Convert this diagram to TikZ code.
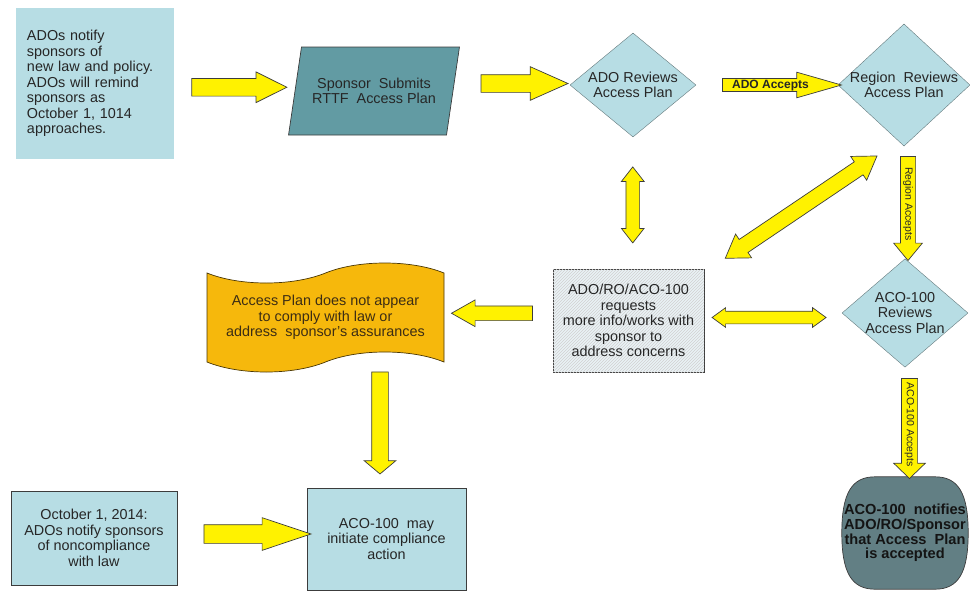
\documentclass[tikz,border=0pt]{standalone}
\usepackage{fontspec}
\setmainfont{Liberation Sans}
\usepackage{xcolor}
\usepackage{tikz}
\usetikzlibrary{shapes.geometric, shapes.arrows, shapes.symbols, patterns, calc, backgrounds}

\definecolor{boxblue}{RGB}{183,221,228}
\definecolor{plateal}{RGB}{98,155,163}
\definecolor{tapeorange}{RGB}{246,184,12}
\definecolor{slategray}{RGB}{98,127,132}
\definecolor{reqfill}{RGB}{234,242,245}
\definecolor{inkgray}{RGB}{38,38,38}
\definecolor{edgegray}{RGB}{60,60,60}

\begin{document}
\begin{tikzpicture}[
    x=1pt, y=-1pt,
    txt/.style={font=\fontsize{14.4}{15.5}\selectfont, text=inkgray},
    box/.style={rectangle, fill=boxblue, txt, align=center, inner sep=0pt},
    decide/.style={diamond, fill=boxblue, draw=boxblue!55!black, line width=0.4pt, txt, align=center, inner sep=-3pt},
    fat/.style={single arrow, draw=edgegray, fill=yellow, line width=0.7pt, inner xsep=0pt},
    twoway/.style={double arrow, draw=edgegray, fill=yellow, line width=0.7pt, inner xsep=0pt},
    tag/.style={font=\fontsize{10.5}{11}\selectfont, text=inkgray, text height=7.5pt, text depth=2pt}
]
\useasboundingbox (0,0) rectangle (970,592);

\node [box, align=left, text width=136pt, inner xsep=11pt, minimum width=158pt, minimum height=151pt] (notice) at (95,83.5)
    {ADOs notify\\ sponsors of\\ new law and policy.\\ ADOs will remind\\ sponsors as\\ October 1, 1014\\ approaches.};
\node [trapezium, trapezium left angle=67, trapezium right angle=113, trapezium stretches=true, fill=plateal, draw=edgegray, line width=0.7pt,
    minimum width=171pt, minimum height=88pt, inner sep=0pt, txt, text=black!85, align=center] (submit) at (374,91)
    {Sponsor~~Submits\\ RTTF~~Access Plan};
\node [decide, minimum width=126pt, minimum height=104pt] (adorev) at (633,85) {ADO Reviews\\ Access Plan};
\node [decide, minimum width=132pt, minimum height=104pt] (regrev) at (904,85) {Region~~Reviews\\ Access Plan};
\node [decide, minimum width=126pt, minimum height=102pt] (acorev) at (905,313) {ACO-100\\ Reviews\\ Access Plan};
\node [box, fill=reqfill, draw=edgegray, line width=0.7pt, minimum width=151pt, minimum height=103pt,
    postaction={pattern=north east lines, pattern color=black!18}] (requests) at (628.5,320.5)
    {ADO/RO/ACO-100\\ requests\\ more info/works with\\ sponsor to\\ address concerns};
\node [tape, tape bend top=in and out, tape bend bottom=in and out, tape bend height=20pt, fill=tapeorange, draw=black!70!tapeorange,
    line width=0.7pt, minimum width=237pt, minimum height=109pt, inner sep=0pt, txt, text={rgb,255:red,60;green,45;blue,20}, align=center] (noncomp) at (325.5,317.5)
    {Access Plan does not appear\\ to comply with law or\\ address~~sponsor's assurances};
\node [box, draw=edgegray, line width=0.7pt, minimum width=166pt, minimum height=94pt] (notify2014) at (94,538)
    {October 1, 2014:\\ ADOs notify sponsors\\ of noncompliance\\ with law};
\node [box, draw=edgegray, line width=0.7pt, minimum width=159pt, minimum height=102pt] (action) at (386.5,539)
    {ACO-100~~may\\ initiate compliance\\ action};
\node [rectangle, minimum width=126pt, minimum height=112pt, inner sep=0pt,
    font=\bfseries\fontsize{14.6}{14.8}\selectfont, text=black!92, align=center] (accepted) at (905,533)
    {ACO-100~~notifies\\ ADO/RO/Sponsor\\ that Access~~Plan\\ is accepted};
\begin{scope}[on background layer]
\draw [fill=slategray, draw=edgegray, line width=0.7pt]
    ($(accepted.north)+(-30,0)$) -- ($(accepted.north)+(30,0)$)
    .. controls ($(accepted.north east)+(-10,0)$) and ($(accepted.east)+(0,-40)$) .. (accepted.east)
    .. controls ($(accepted.east)+(0,40)$) and ($(accepted.south east)+(-10,0)$) .. ($(accepted.south)+(30,0)$)
    -- ($(accepted.south)+(-30,0)$)
    .. controls ($(accepted.south west)+(10,0)$) and ($(accepted.west)+(0,40)$) .. (accepted.west)
    .. controls ($(accepted.west)+(0,-40)$) and ($(accepted.north west)+(10,0)$) .. ($(accepted.north)+(-30,0)$)
    -- cycle;
\end{scope}

\node [fat, minimum height=95pt, inner ysep=8.5pt, single arrow head extend=6.5pt, single arrow tip angle=53] (go1)
    at ($(notice.east)!0.5!(submit.west)+(-4,0)$) {};
\node [fat, minimum height=87pt, inner ysep=8.5pt, single arrow head extend=8pt, single arrow tip angle=48] (go2)
    at ($(submit.east)!0.5!(adorev.west)+(3,-4.5)$) {};
\node [fat, tag, font=\bfseries\fontsize{12}{12}\selectfont, text height=8.5pt, text depth=2.3pt, minimum height=119pt,
    inner ysep=0.8pt, single arrow head extend=6.25pt, single arrow tip angle=32] (go3)
    at ($(adorev.east)!0.5!(regrev.west)+(3.5,0)$) {ADO Accepts};
\node [fat, tag, rotate=-90, minimum height=104pt, inner ysep=2.5pt, single arrow head extend=6.75pt, single arrow tip angle=79] (go4)
    at ($(regrev.south)!0.5!(acorev.north)+(3.5,1.5)$) {Region Accepts};
\node [fat, tag, rotate=-90, minimum height=100pt, inner ysep=3pt, single arrow head extend=7.75pt, single arrow tip angle=92] (go5)
    at ($(acorev.south)!0.5!(accepted.north)+(4.5,2.5)$) {ACO-100 Accepts};
\node [twoway, rotate=90, minimum height=76pt, inner ysep=6.5pt, double arrow head extend=4.5pt, double arrow tip angle=76] (link1)
    at ($(adorev.south)!0.5!(requests.north)+(2,2)$) {};
\node [twoway, rotate=34, minimum height=183pt, inner ysep=7.5pt, double arrow head extend=6.5pt, double arrow tip angle=66] (link2)
    at ($(requests.north east)!0.5!(regrev.south west)+(13.5,15)$) {};
\node [twoway, minimum height=114pt, inner ysep=6pt, double arrow head extend=3.5pt, double arrow tip angle=72] (link3)
    at ($(requests.east)!0.5!(acorev.west)+(-4,0.75)$) {};
\node [fat, rotate=180, minimum height=81pt, inner ysep=7pt, single arrow head extend=6pt, single arrow tip angle=59] (go6)
    at ($(requests.west)!0.5!(noncomp.east)+(0,-5.75)$) {};
\node [fat, rotate=-90, minimum height=102pt, inner ysep=8pt, single arrow head extend=7.5pt, single arrow tip angle=100] (go7)
    at ($(noncomp.south -| action.north)!0.5!(action.north)+(-6.5,-5.5)$) {};
\node [fat, minimum height=107pt, inner ysep=9pt, single arrow head extend=7pt, single arrow tip angle=37] (go8)
    at ($(notify2014.east)!0.5!(action.west)+(1.5,-4.5)$) {};
\end{tikzpicture}
\end{document}
